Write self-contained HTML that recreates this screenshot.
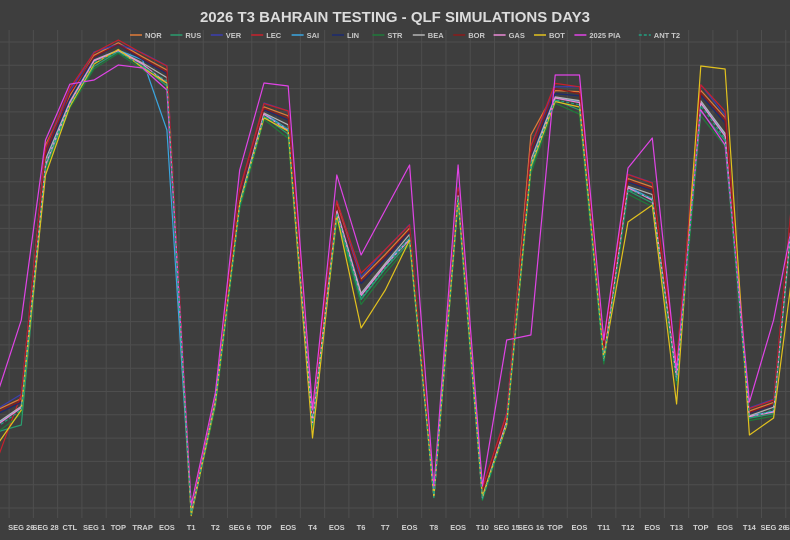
<!DOCTYPE html>
<html><head><meta charset="utf-8"><style>
html,body{margin:0;padding:0;background:#3e3e3e;width:790px;height:540px;overflow:hidden}
svg{display:block}
text{font-family:"Liberation Sans","DejaVu Sans",sans-serif}
</style></head><body>
<svg id="s" width="790" height="540" xmlns="http://www.w3.org/2000/svg">
<rect width="790" height="540" fill="#3e3e3e"/>
<g id="grid" stroke="#4e4e4e" stroke-width="1"></g>
<text x="395" y="22" text-anchor="middle" font-size="15" font-weight="bold" fill="#dcdcdc">2026 T3 BAHRAIN TESTING - QLF SIMULATIONS DAY3</text>
<g id="leg" font-size="7.5" font-weight="bold" fill="#c8c8c8"></g>
<g id="lines" fill="none" stroke-width="1.2" stroke-linejoin="round"></g>
<g id="xl" font-size="7.5" font-weight="bold" fill="#d0d0d0" text-anchor="middle"></g>
</svg>
<script>
var NS="http://www.w3.org/2000/svg";
function el(t,a,p,txt){var e=document.createElementNS(NS,t);for(var k in a)e.setAttribute(k,a[k]);if(txt)e.textContent=txt;p.appendChild(e);return e;}
var X=function(i){return -3+24.27*i;};
var g=document.getElementById('grid');
for(var i=0;i<34;i++){var x=X(i)+12.1;el('line',{x1:x,y1:30,x2:x,y2:518},g);}
for(var y=42;y<518;y+=23.3){el('line',{x1:0,y1:y,x2:790,y2:y},g);}
var labs=["4","SEG 26","SEG 28","CTL","SEG 1","TOP","TRAP","EOS","T1","T2","SEG 6","TOP","EOS","T4","EOS","T6","T7","EOS","T8","EOS","T10","SEG 15","SEG 16","TOP","EOS","T11","T12","EOS","T13","TOP","EOS","T14","SEG 26","SEG 28"];
var xl=document.getElementById('xl');
labs.forEach(function(l,i){el('text',{x:X(i),y:530},xl,l);});
var base=[420,405,160,100,60,48,62,78,512,400,200,112,125,420,210,290,262,235,495,195,495,420,160,95,100,355,185,195,375,100,130,415,408,150];
var spread=[14,12,12,10,8,6,10,12,4,6,10,10,14,10,10,16,14,10,4,8,6,8,14,10,14,10,12,12,12,16,18,8,8,15];
var S=[["NOR","#e07b39",-0.6],["RUS","#2a9d6f",0.6],["VER","#3b3fb0",-0.9],["LEC","#c8202c",-1.0],["SAI","#3aa6e0",0.2],["LIN","#1c2a70",-0.3],["STR","#1f7a3a",0.9],["BEA","#b4b4b4",0.1],["BOR","#8c1a1a",-0.5],["GAS","#ec8ad6",0.3],["BOT","#e2c21e",0.5],["2025 PIA","#e044e6",-1.5],["ANT T2","#20a080",0.4,1]];
var over={
"2025 PIA":{0:395,1:320,2:140,4:80,5:65,6:68,7:90,10:170,11:83,12:86,13:410,14:175,15:255,16:210,17:165,19:165,21:340,22:335,23:75,24:75,25:340,26:168,27:138,28:370,29:110,30:145,31:402,32:320,33:195},
"BOT":{0:445,1:410,2:175,13:438,15:328,16:290,17:240,18:497,26:222,27:205,28:404,29:66,30:69,31:435,32:418,33:230},
"SAI":{7:130,6:60},
"NOR":{22:135,2:145},
"RUS":{0:432,1:425},
"LEC":{0:460,5:40}
};
var lg=document.getElementById('leg');var lx=130;
S.forEach(function(s){el('line',{x1:lx,y1:35,x2:lx+12,y2:35,stroke:s[1],'stroke-width':1.5,'stroke-dasharray':s[3]?'3,2':''},lg);el('text',{x:lx+15,y:38},lg,s[0]);lx+=15+s[0].length*4.8+11;});
var lines=document.getElementById('lines');
S.forEach(function(s,k){var pts=[];for(var i=0;i<34;i++){var o=over[s[0]];var y=(o&&o[i]!==undefined)?o[i]:base[i]+s[2]*spread[i]+((k*7+i*3)%5-2)*0.8;pts.push(X(i).toFixed(1)+","+y.toFixed(1));}
el('polyline',{points:pts.join(" "),stroke:s[1],'stroke-dasharray':s[3]?'3,2':''},lines);});
</script>
</body></html>
